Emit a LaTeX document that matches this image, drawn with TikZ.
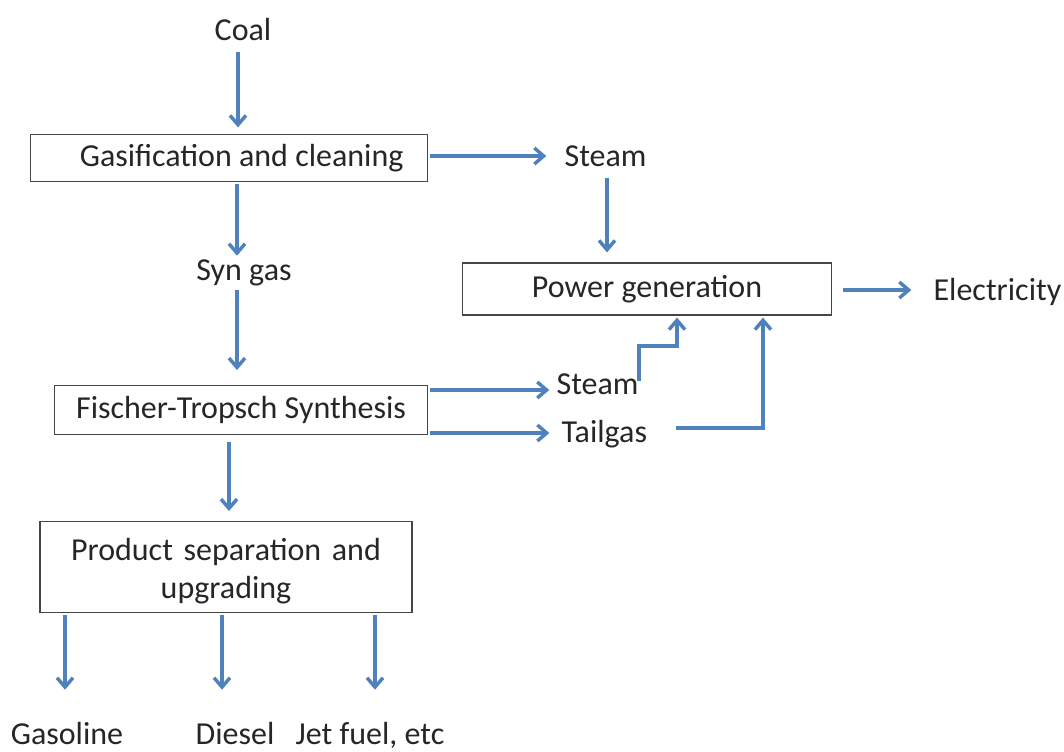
\documentclass[tikz,border=0pt]{standalone}
\usepackage{fontspec}
\setmainfont{Carlito}
\usetikzlibrary{arrows.meta}
\definecolor{flowblue}{RGB}{79,129,189}
\definecolor{boxgray}{RGB}{70,70,70}

\begin{document}
\begin{tikzpicture}[x=0.75pt, y=-0.75pt,
  every node/.style={font=\fontsize{24}{26}\selectfont, text=black!85},
  lbl/.style={inner sep=1pt, text height=17pt, text depth=5pt},
  unit/.style={draw=boxgray, line width=0.9pt, align=center, inner sep=2pt},
  flow/.style={draw=flowblue, line width=2.6pt, -{Straight Barb[length=7pt,width=12pt,line width=2.6pt]}}]
\useasboundingbox (0,0) rectangle (1064,751);

% feed and gasifier
\node[lbl, anchor=base] (coal) at (243,40) {Coal};
\node[unit, minimum width=298pt, minimum height=35pt] (gasif) at (229,158) {\hspace*{19pt}Gasification and cleaning};
\node[lbl, anchor=base west] (steam1) at (563,166) {Steam};
\node[lbl, anchor=base] (syngas) at (244,280) {Syn gas};

% power block
\node[unit, minimum width=277pt, minimum height=39pt] (power) at (647,289) {Power generation};
\node[lbl, anchor=base west] (elec) at (932,300) {Electricity};

% FT reactor
\node[unit, minimum width=280pt, minimum height=37pt] (ft) at (241,410) {Fischer-Tropsch Synthesis};
\node[lbl, anchor=base west] (steam2) at (555,394) {Steam};
\node[lbl, anchor=base west] (tailgas) at (560,442) {Tailgas};

% upgrading and products
\node[unit, minimum width=279pt, minimum height=68pt, text width=270pt,
      font=\fontsize{24}{28.5}\selectfont] (upgr) at (226,567) {\rule{0pt}{23pt}Product separation and\\upgrading};
\node[lbl, anchor=base] (gasoline) at (67,744) {Gasoline};
\node[lbl, anchor=base] (diesel) at (235,744) {Diesel};
\node[lbl, anchor=base] (jet) at (370,744) {Jet fuel, etc};

% arrows
\draw[flow, shorten <=3pt, shorten >=5pt] (coal.south -| 238,0) -- (gasif.north -| 238,0);
\draw[flow, shorten <=1.5pt, shorten >=12.5pt] (gasif.east |- 0,156) -- (steam1.west |- 0,156);
\draw[flow, shorten <=3pt, shorten >=7.5pt] (steam1.south -| 607,0) -- (power.north -| 607,0);
\draw[flow, shorten <=8pt, shorten >=15.5pt] (power.east |- 0,290) -- (elec.west |- 0,290);
\draw[flow, shorten <=1.5pt] (gasif.south -| 237,0) -- (syngas.north -| 237,0);
\draw[flow, shorten <=1.5pt, shorten >=11pt] (syngas.south -| 237,0) -- (ft.north -| 237,0);
\draw[flow, shorten <=1.5pt, shorten >=4.3pt] (ft.east |- 0,390) -- (steam2.west |- 0,390);
\draw[flow, shorten <=1.5pt, shorten >=8pt] (ft.east |- 0,433) -- (tailgas.west |- 0,433);
\draw[flow, shorten >=1.5pt] (steam2.east) ++(-1,-5) -- ++(0,-35) -| (power.south -| 677,0);
\draw[flow, shorten >=1.5pt] (tailgas.east) ++(27,-6) -| (power.south -| 763,0);
\draw[flow, shorten <=5pt, shorten >=7.5pt] (ft.south -| 229,0) -- (upgr.north -| 229,0);
\draw[flow, shorten <=1.5pt, shorten >=22.5pt] (upgr.south -| 65,0) -- (gasoline.north -| 65,0);
\draw[flow, shorten <=1.5pt, shorten >=22.5pt] (upgr.south -| 222,0) -- (diesel.north -| 222,0);
\draw[flow, shorten <=1.5pt, shorten >=22.5pt] (upgr.south -| 375,0) -- (jet.north -| 375,0);
\end{tikzpicture}
\end{document}
